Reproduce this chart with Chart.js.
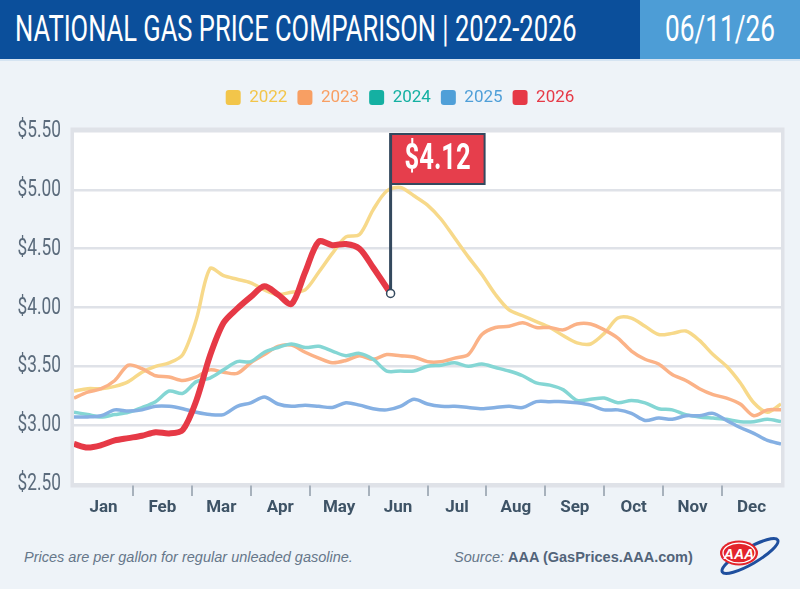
<!DOCTYPE html>
<html>
<head>
<meta charset="utf-8">
<script src="https://cdn.jsdelivr.net/npm/chart.js@4.4.1/dist/chart.umd.min.js"></script>
<style>
  html, body { margin: 0; padding: 0; }
  body { width: 800px; height: 589px; background: #eef3f8; position: relative; overflow: hidden;
         font-family: 'Liberation Sans', Arial, sans-serif; }
  #hdr { position: absolute; left: 0; top: 0; width: 640px; height: 59px; background: #0b4f9b; }
  #date { position: absolute; left: 640px; top: 0; width: 160px; height: 59px; background: #4d9dd6; }
  #rule { position: absolute; left: 0; top: 59px; width: 800px; height: 2px; background: #d5e4f2; }
  .big { position: absolute; top: 0; line-height: 59px; color: #fff; white-space: nowrap;
         font-family: Roboto, sans-serif; font-size: 36px; }
  #ttl { left: 15px; transform-origin: left center; }
  #dtxt { left: 665px; transform-origin: left center; }
  #chartWrap { position: absolute; left: 0; top: 60px; width: 800px; height: 470px; }
  .foot { position: absolute; top: 548px; line-height: 18px; font-size: 14.5px; color: #66778a; white-space: nowrap; }
  #note { left: 24px; font-style: italic; }
  #src { left: 454px; }
  #src i { color: #66778a; }
  #src b { color: #52647a; }
  #logo { position: absolute; left: 712px; top: 531px; }
</style>
</head>
<body>
<div id="hdr"></div>
<div id="date"></div>
<div id="rule"></div>
<span class="big" id="ttl">NATIONAL GAS PRICE COMPARISON | 2022-2026</span>
<span class="big" id="dtxt">06/11/26</span>
<div id="chartWrap"><canvas id="gasChart" width="800" height="470"></canvas></div>
<div class="foot" id="note">Prices are per gallon for regular unleaded gasoline.</div>
<div class="foot" id="src"><i>Source:</i> <b>AAA (GasPrices.AAA.com)</b></div>
<svg id="logo" width="72" height="50" viewBox="0 0 72 50">
  <ellipse cx="38" cy="25" rx="32" ry="8" transform="rotate(-30 38 25)" fill="none" stroke="#1f4f9e" stroke-width="3"/>
  <ellipse cx="27" cy="22" rx="19" ry="12.5" fill="#e3242b"/>
  <ellipse cx="27" cy="22" rx="16" ry="9.8" fill="none" stroke="#fff" stroke-width="1.3"/>
  <text x="27" y="27.5" text-anchor="middle" font-family="'Liberation Sans', Arial, sans-serif" font-weight="bold" font-style="italic" font-size="14" fill="#fff">AAA</text>
</svg>

<script>
// squeeze the header text to the widths in the original artwork
function fitText(id, w) {
  const el = document.getElementById(id);
  el.style.transform = 'scaleX(' + (w / el.offsetWidth) + ')';
}
fitText('ttl', 562);
fitText('dtxt', 110);

const FONT = 'Roboto, sans-serif';

const months = ['Jan', 'Feb', 'Mar', 'Apr', 'May', 'Jun', 'Jul', 'Aug', 'Sep', 'Oct', 'Nov', 'Dec'];
const yTicks = [2.5, 3.0, 3.5, 4.0, 4.5, 5.0, 5.5];

// day of year for each weekly reading
const days = [0, 7, 14, 21, 28, 35, 42, 49, 56, 63, 70, 77, 84, 91, 98, 105, 112, 119, 126, 133,
  140, 147, 154, 161, 168, 175, 182, 189, 196, 203, 210, 217, 224, 231, 238, 245, 252, 259, 266,
  273, 280, 287, 294, 301, 308, 315, 322, 329, 336, 343, 350, 357, 364];
const days2026 = [0, 7, 14, 21, 28, 35, 42, 49, 56, 63, 70, 77, 84, 91, 98, 105, 112, 119, 126,
  133, 140, 147, 154, 163];

const p2022 = [3.29, 3.31, 3.31, 3.33, 3.37, 3.45, 3.50, 3.53, 3.60, 3.90, 4.33, 4.27, 4.24, 4.21,
  4.15, 4.11, 4.13, 4.15, 4.30, 4.46, 4.60, 4.62, 4.83, 4.99, 5.02, 4.95, 4.87, 4.75, 4.59, 4.43,
  4.28, 4.11, 3.98, 3.93, 3.88, 3.83, 3.76, 3.70, 3.69, 3.78, 3.91, 3.91, 3.84, 3.77, 3.78, 3.80,
  3.72, 3.60, 3.50, 3.36, 3.19, 3.11, 3.18];
const p2023 = [3.23, 3.28, 3.31, 3.38, 3.51, 3.48, 3.42, 3.41, 3.38, 3.41, 3.47, 3.45, 3.44, 3.53,
  3.60, 3.67, 3.68, 3.62, 3.57, 3.53, 3.55, 3.59, 3.56, 3.60, 3.59, 3.58, 3.54, 3.54, 3.57, 3.60,
  3.77, 3.83, 3.84, 3.87, 3.83, 3.83, 3.81, 3.86, 3.86, 3.81, 3.74, 3.63, 3.56, 3.52, 3.43, 3.38,
  3.31, 3.26, 3.23, 3.18, 3.08, 3.13, 3.13];
const p2024 = [3.11, 3.09, 3.07, 3.09, 3.11, 3.15, 3.20, 3.29, 3.27, 3.37, 3.40, 3.47, 3.54, 3.54,
  3.62, 3.66, 3.69, 3.66, 3.67, 3.63, 3.59, 3.61, 3.56, 3.46, 3.46, 3.46, 3.50, 3.51, 3.53, 3.50,
  3.52, 3.49, 3.46, 3.42, 3.36, 3.34, 3.30, 3.21, 3.22, 3.23, 3.19, 3.21, 3.19, 3.14, 3.13, 3.09,
  3.07, 3.06, 3.05, 3.03, 3.03, 3.05, 3.03];
const p2025 = [3.07, 3.07, 3.08, 3.13, 3.12, 3.13, 3.16, 3.16, 3.14, 3.11, 3.09, 3.09, 3.16, 3.19,
  3.24, 3.18, 3.16, 3.17, 3.16, 3.15, 3.19, 3.17, 3.14, 3.13, 3.16, 3.22, 3.18, 3.16, 3.16, 3.15,
  3.14, 3.15, 3.16, 3.15, 3.20, 3.20, 3.20, 3.19, 3.17, 3.13, 3.13, 3.10, 3.04, 3.06, 3.05, 3.08,
  3.08, 3.10, 3.04, 2.98, 2.93, 2.87, 2.84];
const p2026 = [2.84, 2.81, 2.83, 2.87, 2.89, 2.91, 2.94, 2.93, 2.96, 3.21, 3.59, 3.87, 3.99, 4.09,
  4.18, 4.11, 4.03, 4.30, 4.56, 4.53, 4.54, 4.50, 4.34, 4.12];

const years = ['2022', '2023', '2024', '2025', '2026'];
const lineColors = ['#f7d98a', '#fbb287', '#84d6d4', '#85b0e3', '#e63946'];
const keyColors = ['#f2c54a', '#f89f63', '#14b0a2', '#4f9fd8', '#e63946'];

function pts(xs, ys) {
  return ys.map((v, i) => ({ x: xs[i], y: v }));
}

const series = [
  pts(days, p2022), pts(days, p2023), pts(days, p2024), pts(days, p2025), pts(days2026, p2026)
];

const datasets = series.map((data, i) => ({
  label: years[i],
  data: data,
  borderColor: lineColors[i],
  backgroundColor: keyColors[i],
  borderWidth: i === 4 ? 6 : 3.5,
  order: i === 4 ? 0 : 5 - i,
  pointRadius: 0,
  tension: 0.3,
  xAxisID: 'x',
  yAxisID: 'y'
}));

// white plot area with its grey frame
const plotFrame = {
  id: 'plotFrame',
  beforeDraw(chart) {
    const { ctx, chartArea: a } = chart;
    ctx.save();
    ctx.fillStyle = '#ffffff';
    ctx.fillRect(a.left, a.top, a.right - a.left, a.bottom - a.top);
    ctx.strokeStyle = '#dfe2e8';
    ctx.lineWidth = 3.5;
    ctx.strokeRect(a.left - 1.75, a.top - 1.75, a.right - a.left + 3.5, a.bottom - a.top + 3.5);
    ctx.restore();
  }
};

// extra room under the legend
const legendRoom = {
  id: 'legendRoom',
  beforeInit(chart) {
    const fit = chart.legend.fit;
    chart.legend.fit = function () {
      fit.call(this);
      this.height += 15;
    };
  }
};

// the y labels use a condensed face in the original: squeeze them around their right edge
const narrowY = {
  id: 'narrowY',
  afterLayout(chart) {
    const s = chart.scales.y;
    if (s._narrow) return;
    const draw = s.drawLabels;
    s._computeLabelArea = () => undefined;   // no clipping to the axis box
    s.drawLabels = function (area) {
      const c = this.ctx;
      const edge = this.right - this.options.ticks.padding;
      c.save();
      c.translate(edge, 0);
      c.scale(0.72, 1);
      c.translate(-edge, 0);
      draw.call(this, area);
      c.restore();
    };
    s._narrow = true;
  }
};

// flag marking the latest 2026 price
const priceFlag = {
  id: 'priceFlag',
  afterDatasetsDraw(chart) {
    const meta = chart.getDatasetMeta(4);
    const last = meta.data[meta.data.length - 1];
    const value = p2026[p2026.length - 1];
    const { ctx, chartArea } = chart;
    const top = chartArea.top + 2;
    const dark = '#34495e';
    ctx.save();
    ctx.fillStyle = dark;
    ctx.fillRect(last.x - 1.5, top, 3, last.y - top);
    ctx.fillRect(last.x, top, 95, 52);
    ctx.fillStyle = '#e63e4c';
    ctx.fillRect(last.x + 1.5, top + 2, 91.5, 48);

    ctx.save();
    ctx.translate(last.x + 47, top + 27);
    ctx.scale(0.71, 1);
    ctx.fillStyle = '#ffffff';
    ctx.font = 'bold 36px ' + FONT;
    ctx.textAlign = 'center';
    ctx.textBaseline = 'middle';
    ctx.fillText('$' + value.toFixed(2), 0, 0);
    ctx.restore();

    ctx.beginPath();
    ctx.arc(last.x, last.y, 4, 0, Math.PI * 2);
    ctx.fillStyle = '#ffffff';
    ctx.fill();
    ctx.lineWidth = 1.5;
    ctx.strokeStyle = dark;
    ctx.stroke();
    ctx.restore();
  }
};

new Chart(document.getElementById('gasChart'), {
  type: 'line',
  data: { datasets: datasets },
  options: {
    responsive: false,
    animation: false,
    layout: { padding: { top: 19, left: 19, right: 19, bottom: 0 } },
    scales: {
      x: { type: 'linear', min: 0, max: 364, display: false },
      xm: {
        type: 'category',
        labels: months,
        position: 'bottom',
        offset: true,
        border: { display: false },
        grid: {
          offset: true,
          drawOnChartArea: false,
          tickLength: 12,
          lineWidth: 2,
          color: c => (c.index === undefined || c.index === 0) ? 'rgba(0,0,0,0)' : '#a7b1bc'
        },
        ticks: {
          autoSkip: false,
          maxRotation: 0,
          padding: 2,
          color: '#3e5366',
          font: { family: FONT, size: 17, weight: 'bold' }
        },
        afterFit: s => { s.height = 46; }
      },
      y: {
        min: 2.5,
        max: 5.5,
        afterBuildTicks: s => { s.ticks = yTicks.map(v => ({ value: v })); },
        border: { display: false },
        grid: { color: '#dfe2e8', lineWidth: 2.5, drawTicks: false },
        ticks: {
          padding: 13,
          color: '#5b6b7c',
          font: { family: FONT, size: 24 },
          callback: v => '$' + Number(v).toFixed(2)
        },
        afterFit: s => { s.width = 55; }
      }
    },
    plugins: {
      tooltip: { enabled: false },
      legend: {
        position: 'top',
        labels: {
          boxWidth: 15,
          boxHeight: 15,
          padding: 10,
          useBorderRadius: true,
          borderRadius: 3,
          font: { family: FONT, size: 17 },
          generateLabels: chart => chart.data.datasets.map((ds, i) => ({
            text: ds.label,
            fillStyle: keyColors[i],
            strokeStyle: keyColors[i],
            fontColor: keyColors[i],
            lineWidth: 0,
            borderRadius: 3,
            hidden: false,
            datasetIndex: i
          }))
        }
      }
    }
  },
  plugins: [plotFrame, legendRoom, narrowY, priceFlag]
});
</script>
</body>
</html>
